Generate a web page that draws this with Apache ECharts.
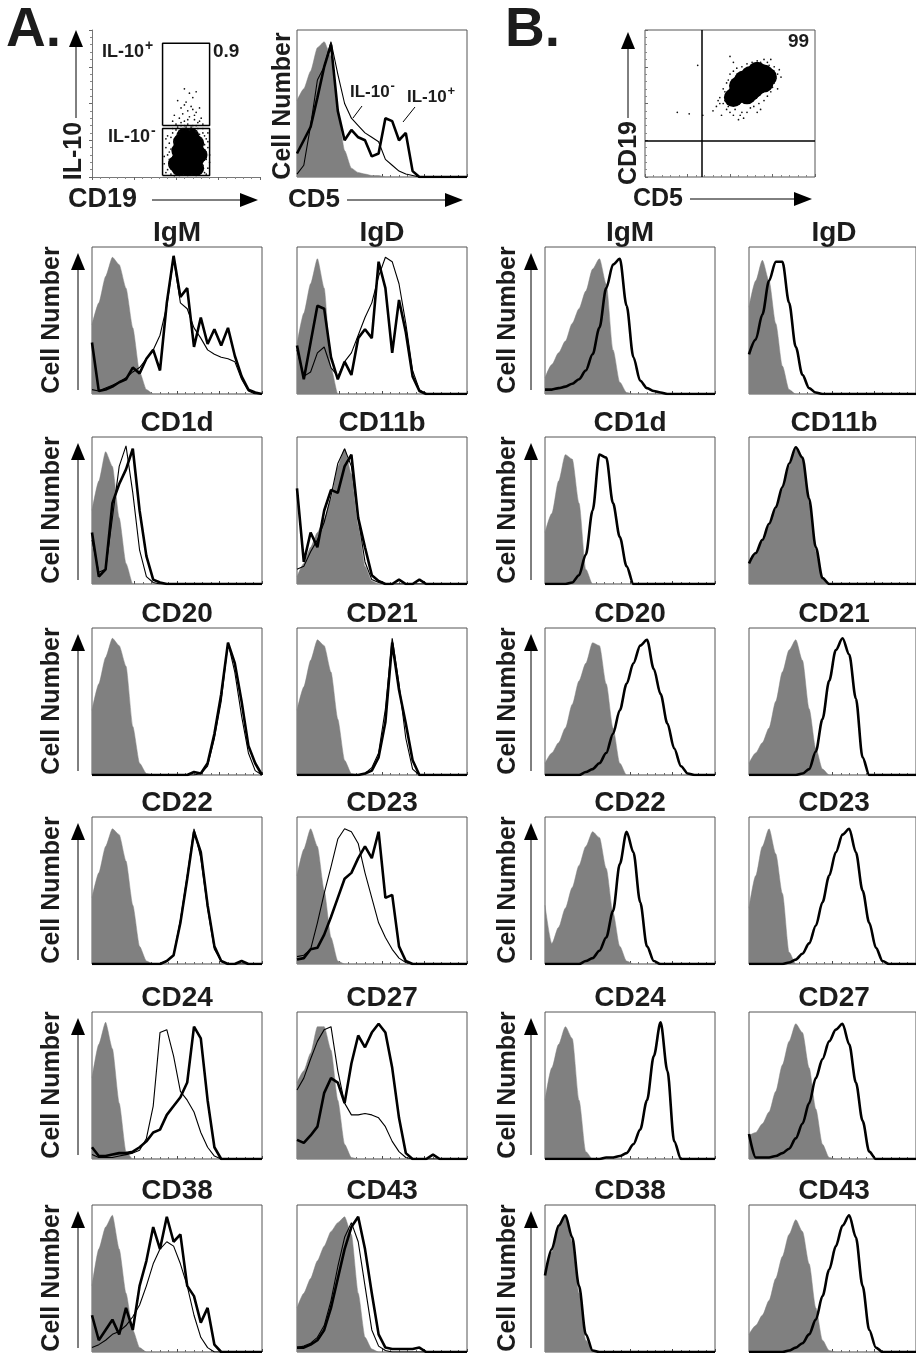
<!DOCTYPE html>
<html>
<head>
<meta charset="utf-8">
<script src="https://cdn.jsdelivr.net/npm/echarts@6/dist/echarts.min.js"></script>
<style>
  html, body { margin: 0; padding: 0; background: #fff; }
  #chart { width: 916px; height: 1353px; }
</style>
</head>
<body>
<div id="chart"></div>
<script>
// fluorescence bins (log scale mapped to 0..100), shared by every histogram
const bins = [0,4,8,12,16,20,24,28,32,36,40,44,48,52,56,60,64,68,72,76,80,84,88,92,96,100];

// top of A: CD5 histogram (isotype, IL-10-, IL-10+)
const cd5Ctrl = [52,60,72,88,92,82,45,18,6,3,2,1,1,0];
const cd5Neg  = [2,8,35,66,75,92,70,50,40,35,30,27,24,12,8,4,2,1,0];
const cd5Pos  = [16,25,34,54,75,90,45,25,32,27,25,14,16,40,38,25,30,4,0];

// A: sorted IL-10- (thin) vs IL-10+ (thick) vs isotype (gray)
const igmA_ctrl = [47,62,80,93,88,72,45,15,3,0];
const igmA_neg  = [3,2,4,6,8,11,15,18,24,30,40,60,92,62,58,45,38,30,27,25,24,22,10,2,0,0];
const igmA_pos  = [35,2,3,5,8,10,18,14,24,30,16,62,94,66,72,32,52,34,44,33,45,26,12,3,1,0];
const igdA_ctrl = [34,55,75,92,72,18,0];
const igdA_neg  = [30,12,15,28,32,18,12,22,28,40,52,62,80,93,90,75,48,16,3,0];
const igdA_pos  = [33,10,35,60,58,25,10,22,13,38,44,38,90,72,28,64,42,12,2,0];
const cd1dA_ctrl = [50,70,90,80,45,14,0];
const cd1dA_neg  = [30,8,10,45,80,94,62,23,5,1,0];
const cd1dA_pos  = [35,5,10,55,68,78,92,50,19,3,1,0];
const cd11bA_ctrl = [5,14,25,35,44,58,80,92,75,40,12,2,0];
const cd11bA_neg  = [10,12,22,30,42,60,82,92,80,45,15,3,1,0];
const cd11bA_pos  = [65,15,35,25,50,64,62,80,88,45,25,6,2,0,0,3,0,0,3,0];
const cd20A_ctrl = [44,62,80,93,88,74,33,8,1,0];
const cd20A_neg  = [0,0,0,0,0,0,0,0,0,0,0,0,0,0,0,0,1,6,25,50,90,70,40,15,3,0];
const cd20A_pos  = [0,0,0,0,0,0,0,0,0,0,0,0,0,0,0,2,1,8,28,55,90,76,50,20,8,0];
const cd21A_ctrl = [44,60,78,92,88,70,38,10,1,0];
const cd21A_neg  = [0,0,0,0,0,0,0,0,0,0,1,5,15,45,93,62,25,4,0];
const cd21A_pos  = [0,0,0,0,0,0,0,0,0,0,1,3,12,36,90,58,35,10,0];
const cd22A_ctrl = [45,62,80,92,88,70,40,12,2,0];
const cd22A_neg  = [0,0,0,0,0,0,0,0,0,0,0,2,6,30,60,92,72,38,10,2,0];
const cd22A_pos  = [0,0,0,0,0,0,0,0,0,0,0,2,6,28,58,90,76,40,12,2,0,0,2,0];
const cd23A_ctrl = [60,78,92,80,50,18,2,0];
const cd23A_neg  = [5,6,10,28,48,66,85,92,90,82,62,45,28,18,10,4,1,0];
const cd23A_pos  = [3,4,10,11,20,32,45,58,62,72,80,72,90,45,47,12,2,0];
const cd24A_ctrl = [55,78,93,75,38,5,0];
const cd24A_neg  = [3,1,1,1,2,3,4,6,14,36,86,88,70,46,40,32,18,8,2,0];
const cd24A_pos  = [8,2,2,3,4,4,5,8,12,18,20,30,36,42,52,90,82,40,8,0];
const cd27A_ctrl = [52,60,72,90,90,74,40,10,1,0];
const cd27A_neg  = [47,55,68,80,88,90,60,38,30,30,31,30,28,22,12,5,1,0];
const cd27A_pos  = [13,11,16,22,45,55,52,38,65,84,76,86,92,86,62,28,4,0,0,0,3,0];
const cd38A_ctrl = [45,70,85,93,70,40,15,3,0];
const cd38A_neg  = [3,5,8,12,14,18,24,32,45,60,70,75,72,60,45,25,10,3,0];
const cd38A_pos  = [25,8,15,22,12,30,15,45,62,85,70,92,75,80,45,38,20,30,5,0];
const cd43A_ctrl = [30,40,50,62,72,82,88,92,80,40,10,2,0];
const cd43A_neg  = [3,4,6,10,18,35,58,78,88,75,45,15,4,1,0];
const cd43A_pos  = [3,3,5,8,15,30,50,70,85,92,70,40,12,3,2,2,2,2,3,0];

// B: CD5+ cells (thick) vs isotype (gray)
const igmB_ctrl = [11,20,28,36,48,58,70,85,92,75,30,8,1,0];
const igmB_pos  = [3,3,4,5,7,10,16,27,45,72,88,92,60,25,9,4,2,1,0];
const igdB_ctrl = [59,77,91,77,48,19,3,0];
const igdB_pos  = [27,37,54,77,90,90,62,32,13,4,1,0];
const cd1dB_ctrl = [35,48,70,88,85,55,10,0];
const cd1dB_pos  = [0,0,0,0,1,6,20,50,88,86,55,32,12,0];
const cd11bB_ctrl = [13,20,29,40,51,64,80,92,85,55,22,3,0];
const cd11bB_pos  = [14,21,30,41,52,66,82,93,86,58,25,4,0];
const cd20B_ctrl = [8,15,22,32,48,64,76,90,88,62,32,8,0];
const cd20B_pos  = [0,0,0,0,0,0,2,4,8,15,28,44,62,76,88,92,72,55,35,18,6,1,0];
const cd21B_ctrl = [8,15,22,32,50,70,85,92,78,45,18,4,0];
const cd21B_pos  = [0,0,0,0,0,0,0,0,1,4,16,38,64,85,93,82,52,12,0];
const cd22B_ctrl = [40,14,25,38,52,67,80,90,86,65,35,12,2,0];
const cd22B_pos  = [0,0,0,0,0,0,2,4,9,18,36,68,90,76,42,12,2,0];
const cd23B_ctrl = [38,60,80,92,75,48,8,0];
const cd23B_pos  = [0,0,0,0,0,0,1,3,7,14,26,42,60,76,88,92,76,50,28,11,2,0];
const cd24B_ctrl = [40,62,78,90,82,40,5,0];
const cd24B_pos  = [0,0,0,0,0,0,0,0,0,1,1,2,4,10,20,40,70,93,60,12,0];
const cd27B_ctrl = [16,18,24,32,46,64,80,92,86,62,34,10,1,0];
const cd27B_pos  = [17,1,1,1,2,4,7,14,24,38,55,68,80,88,92,78,52,26,5,0];
const cd38B_ctrl = [50,68,85,92,75,40,8,0];
const cd38B_pos  = [52,70,86,93,78,45,12,1,0];
const cd43B_ctrl = [12,18,25,35,50,65,80,90,82,60,30,8,1,0];
const cd43B_pos  = [0,0,0,0,0,0,1,3,6,12,22,38,56,72,86,93,78,45,15,3,0];

const markers = [['IgM','IgD'],['CD1d','CD11b'],['CD20','CD21'],['CD22','CD23'],['CD24','CD27'],['CD38','CD43']];
const setA = [
  [[igmA_ctrl, igmA_neg, igmA_pos], [igdA_ctrl, igdA_neg, igdA_pos]],
  [[cd1dA_ctrl, cd1dA_neg, cd1dA_pos], [cd11bA_ctrl, cd11bA_neg, cd11bA_pos]],
  [[cd20A_ctrl, cd20A_neg, cd20A_pos], [cd21A_ctrl, cd21A_neg, cd21A_pos]],
  [[cd22A_ctrl, cd22A_neg, cd22A_pos], [cd23A_ctrl, cd23A_neg, cd23A_pos]],
  [[cd24A_ctrl, cd24A_neg, cd24A_pos], [cd27A_ctrl, cd27A_neg, cd27A_pos]],
  [[cd38A_ctrl, cd38A_neg, cd38A_pos], [cd43A_ctrl, cd43A_neg, cd43A_pos]]
];
const setB = [
  [[igmB_ctrl, igmB_pos], [igdB_ctrl, igdB_pos]],
  [[cd1dB_ctrl, cd1dB_pos], [cd11bB_ctrl, cd11bB_pos]],
  [[cd20B_ctrl, cd20B_pos], [cd21B_ctrl, cd21B_pos]],
  [[cd22B_ctrl, cd22B_pos], [cd23B_ctrl, cd23B_pos]],
  [[cd24B_ctrl, cd24B_pos], [cd27B_ctrl, cd27B_pos]],
  [[cd38B_ctrl, cd38B_pos], [cd43B_ctrl, cd43B_pos]]
];

// dot plots: A = CD19 vs IL-10, B = CD5 vs CD19
const gateIL10pos = { x: [42, 70], y: [35, 91] };
const gateIL10neg = { x: [42, 70], y: [1, 33] };
const aCore = [[52,6],[57,6],[62,6],[52,12],[57,12],[62,12],[52,18],[57,18],[62,18],[53,24],[58,24],[62,23],
  [55,28],[59,28],[50,9],[64,15]];
const aFuzz = [[45,5],[46,12],[44,20],[47,27],[48,30],[50,32],[54,33],[58,32],[62,31],[66,30],[68,26],[69,20],
  [68,12],[69,6],[67,3],[45,28],[43,9],[47,2],[66,33],[52,31],[60,33],[70,15],[46,17],[64,29],[49,24],[67,22],
  [44,3],[45,15],[46,23],[48,33],[56,33],[63,33],[67,28],[69,24],[70,10],[68,17],[66,8],[46,8],[44,26],[49,1],
  [68,2],[65,26],[47,19],[69,30],[43,14],[51,29],
  [50,36],[53,35],[57,36],[60,35],[63,37],[55,38],[52,40],[58,41],[61,39],[65,40],[54,43],[49,42],[57,45],
  [62,44],[59,48],[53,47],[64,47],[56,51],[51,52],[60,54],[58,57],[55,60],[62,58],[48,38],[66,36],[56,34],[61,42],
  [53,37],[59,34],[55,35],[62,35],[51,34],[57,39],[64,38],[60,46],[55,49]];
const bCore = [[54,56],[58,60],[62,63],[66,66],[70,70],[60,56],[64,60],[58,66],[66,72],[70,64],[55,62],[62,69],
  [62,58],[66,62],[58,62],[62,66],[68,68],[56,58],[72,68],[52,54]];
const bFuzz = [[46,50],[48,46],[50,44],[52,42],[56,42],[60,44],[64,48],[70,52],[74,58],[76,64],[78,70],[76,75],
  [72,78],[66,79],[60,77],[54,74],[50,70],[48,64],[47,58],[44,54],[42,48],[45,42],[58,40],[68,46],[78,60],
  [74,80],[52,78],[80,68],[40,45],[55,39],[66,44],[31,76],[19,44],[26,43],[34,42],[50,82],
  [47,52],[49,48],[53,46],[62,47],[72,55],[75,61],[77,67],[73,76],[68,78],[63,78],[57,75],[52,72],[49,66],
  [46,60],[44,50],[70,80],[79,73],[43,52],[57,44],[67,50]];
const bQuadX = 33.5, bQuadY = 25;

const colLeft = [92, 297, 545, 749];
const rowTop = [247, 437, 628, 817, 1012, 1205];
const PW = 170, PH = 147;
const FONT = '"Liberation Sans", Arial, Helvetica, sans-serif';
const GRAY = '#808080';

function pts(a) {
  return bins.map((x, i) => [x, i < a.length ? a[i] : 0]);
}

const grids = [], xAxes = [], yAxes = [], series = [], gfx = [];

function histGrid(left, top) {
  const g = grids.length;
  grids.push({ left, top, width: PW, height: PH, show: true, borderColor: '#555', borderWidth: 1, backgroundColor: 'transparent' });
  xAxes.push({ gridIndex: g, type: 'value', min: 0, max: 100, interval: 25,
    axisLine: { show: false }, axisLabel: { show: false }, splitLine: { show: false },
    axisTick: { show: true, inside: true, length: 3, lineStyle: { color: '#444' } },
    minorTick: { show: true, splitNumber: 5, length: 2, lineStyle: { color: '#666' } } });
  yAxes.push({ gridIndex: g, type: 'value', min: 0, max: 100, show: false });
  return g;
}

function addCtrl(g, data, smooth) {
  series.push({ type: 'line', xAxisIndex: g, yAxisIndex: g, data: pts(data), symbol: 'none',
    smooth: smooth, smoothMonotone: 'x', lineStyle: { width: 0.5, color: GRAY }, itemStyle: { color: GRAY },
    areaStyle: { color: GRAY, opacity: 1 }, z: 1, silent: true });
}
function addLine(g, data, width, smooth, z) {
  series.push({ type: 'line', xAxisIndex: g, yAxisIndex: g, data: pts(data), symbol: 'none',
    smooth: smooth, smoothMonotone: 'x', lineStyle: { width, color: '#000' }, itemStyle: { color: '#000' }, z, silent: true });
}

function text(x, y, str, size, opt) {
  opt = opt || {};
  const el = { type: 'text', x, y, silent: true, z: 100,
    style: { text: str, font: 'bold ' + size + 'px ' + FONT, fill: '#1c1c1c',
      textAlign: opt.align || 'left', align: opt.align || 'left',
      textVerticalAlign: 'middle', verticalAlign: 'middle' } };
  if (opt.rot) el.rotation = opt.rot;
  gfx.push(el);
}
function seg(x1, y1, x2, y2, w) {
  gfx.push({ type: 'line', silent: true, z: 100, shape: { x1, y1, x2, y2 }, style: { stroke: '#000', lineWidth: w || 1 } });
}
function tri(p) {
  gfx.push({ type: 'polygon', silent: true, z: 100, shape: { points: p }, style: { fill: '#000' } });
}
function upArrow(x, yTop, yBot) {
  seg(x, yTop + 16, x, yBot, 1);
  tri([[x - 7, yTop + 17], [x + 7, yTop + 17], [x, yTop]]);
}
function rightArrow(x1, x2, y) {
  seg(x1, y, x2 - 16, y, 1);
  tri([[x2 - 18, y - 7], [x2 - 18, y + 7], [x2, y]]);
}
function supLabel(x, y, base, sup, size) {
  text(x, y, base, size);
  const w = size * 2.33;
  text(x + w + 1, y - 6, sup, Math.round(size * 0.75));
}

// ---- panel A top: dot plot ----
(function () {
  const g = grids.length;
  grids.push({ left: 92, top: 30, width: 168, height: 147, show: false });
  const axisCommon = { type: 'value', min: 0, max: 100, interval: 25,
    axisLine: { show: true, lineStyle: { color: '#777', width: 1 } }, axisLabel: { show: false }, splitLine: { show: false },
    axisTick: { show: true, length: 3, lineStyle: { color: '#666' } },
    minorTick: { show: true, splitNumber: 5, length: 2, lineStyle: { color: '#888' } } };
  xAxes.push(Object.assign({ gridIndex: g }, axisCommon));
  yAxes.push(Object.assign({ gridIndex: g }, axisCommon));
  series.push({ type: 'scatter', xAxisIndex: g, yAxisIndex: g, data: aCore, symbolSize: 16,
    itemStyle: { color: '#000', opacity: 1 }, silent: true, z: 2 });
  series.push({ type: 'scatter', xAxisIndex: g, yAxisIndex: g, data: aFuzz, symbolSize: 1.7,
    itemStyle: { color: '#111', opacity: 1 }, silent: true, z: 2 });
  [gateIL10pos, gateIL10neg].forEach(gt => {
    series.push({ type: 'line', xAxisIndex: g, yAxisIndex: g, symbol: 'none', silent: true, z: 3,
      lineStyle: { color: '#000', width: 1.5 },
      data: [[gt.x[0], gt.y[0]], [gt.x[1], gt.y[0]], [gt.x[1], gt.y[1]], [gt.x[0], gt.y[1]], [gt.x[0], gt.y[0]]] });
  });
})();

// ---- panel A top: CD5 histogram ----
(function () {
  const g = grids.length;
  grids.push({ left: 297, top: 30, width: 170, height: 147, show: true, borderColor: '#555', borderWidth: 1 });
  xAxes.push({ gridIndex: g, type: 'value', min: 0, max: 100, interval: 25,
    axisLine: { show: false }, axisLabel: { show: false }, splitLine: { show: false },
    axisTick: { show: true, inside: true, length: 3, lineStyle: { color: '#444' } },
    minorTick: { show: true, splitNumber: 5, length: 2, lineStyle: { color: '#666' } } });
  yAxes.push({ gridIndex: g, type: 'value', min: 0, max: 100, show: false });
  addCtrl(g, cd5Ctrl, 0.2);
  addLine(g, cd5Neg, 1.1, false, 3);
  addLine(g, cd5Pos, 2.6, false, 4);
})();

// ---- panel B top: dot plot ----
(function () {
  const g = grids.length;
  grids.push({ left: 645, top: 30, width: 170, height: 147, show: true, borderColor: '#555', borderWidth: 1 });
  const axisCommon = { type: 'value', min: 0, max: 100, interval: 25,
    axisLine: { show: false }, axisLabel: { show: false }, splitLine: { show: false },
    axisTick: { show: true, inside: true, length: 3, lineStyle: { color: '#666' } },
    minorTick: { show: true, splitNumber: 5, length: 2, lineStyle: { color: '#888' } } };
  xAxes.push(Object.assign({ gridIndex: g }, axisCommon));
  yAxes.push(Object.assign({ gridIndex: g }, axisCommon));
  series.push({ type: 'scatter', xAxisIndex: g, yAxisIndex: g, data: bCore, symbolSize: 19,
    itemStyle: { color: '#000', opacity: 1 }, silent: true, z: 2,
    markLine: { silent: true, symbol: 'none', label: { show: false }, lineStyle: { color: '#000', width: 1.5, type: 'solid' },
      data: [{ xAxis: bQuadX }, { yAxis: bQuadY }] } });
  series.push({ type: 'scatter', xAxisIndex: g, yAxisIndex: g, data: bFuzz, symbolSize: 1.7,
    itemStyle: { color: '#111', opacity: 1 }, silent: true, z: 2 });
})();

// ---- histogram grid ----
markers.forEach((pair, r) => {
  pair.forEach((name, c) => {
    const a = setA[r][c];
    const gA = histGrid(colLeft[c], rowTop[r]);
    addCtrl(gA, a[0], 0.2);
    addLine(gA, a[1], 1.1, false, 3);
    addLine(gA, a[2], 2.6, false, 4);
    text(colLeft[c] + PW / 2, rowTop[r] - 14, name, 28, { align: 'center' });

    const b = setB[r][c];
    const gB = histGrid(colLeft[c + 2], rowTop[r]);
    addCtrl(gB, b[0], 0.25);
    addLine(gB, b[1], 2.6, 0.3, 4);
    text(colLeft[c + 2] + PW / 2, rowTop[r] - 14, name, 28, { align: 'center' });
  });
  // y-axis labels
  text(52, rowTop[r] + 73, 'Cell Number', 25, { align: 'center', rot: Math.PI / 2 });
  upArrow(78, rowTop[r] + 6, rowTop[r] + 143);
  text(508, rowTop[r] + 73, 'Cell Number', 25, { align: 'center', rot: Math.PI / 2 });
  upArrow(531, rowTop[r] + 6, rowTop[r] + 143);
});

// ---- top labels ----
text(6, 31, 'A.', 55);
text(505, 31, 'B.', 55);
// A dot plot
text(74, 151, 'IL-10', 25, { align: 'center', rot: Math.PI / 2 });
upArrow(76, 30, 118);
text(68, 200, 'CD19', 27);
rightArrow(152, 258, 200);
supLabel(102, 52, 'IL-10', '+', 18);
text(213, 52, '0.9', 19);
supLabel(108, 137, 'IL-10', '-', 18);
// CD5 histogram
text(283, 106, 'Cell Number', 25, { align: 'center', rot: Math.PI / 2 });
text(288, 200, 'CD5', 26);
rightArrow(347, 463, 200);
supLabel(350, 92, 'IL-10', '-', 17);
supLabel(407, 97, 'IL-10', '+', 17);
seg(362, 106, 353, 118, 1);
seg(415, 107, 403, 122, 1);
// B dot plot
text(629, 153, 'CD19', 25, { align: 'center', rot: Math.PI / 2 });
upArrow(628, 32, 118);
text(633, 199, 'CD5', 25);
rightArrow(690, 812, 199);
text(788, 42, '99', 19);

const chart = echarts.init(document.getElementById('chart'));
chart.setOption({
  animation: false,
  backgroundColor: '#fff',
  grid: grids,
  xAxis: xAxes,
  yAxis: yAxes,
  series: series,
  graphic: { elements: gfx }
});
</script>
</body>
</html>
